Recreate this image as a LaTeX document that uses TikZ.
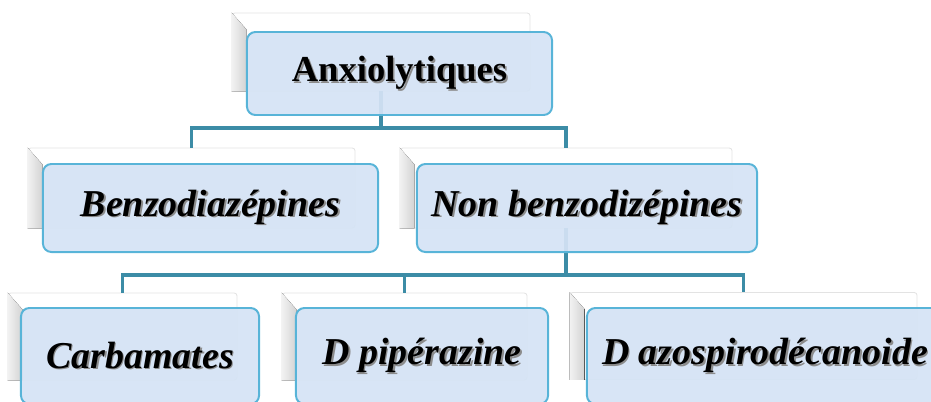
\documentclass[tikz,border=0pt]{standalone}
\usepackage{fontspec}
\setmainfont{Liberation Serif}
\usepackage{xcolor}
\usepackage{tikz}
\usetikzlibrary{positioning,calc}
\definecolor{boxblue}{RGB}{213, 227, 245}
\definecolor{boxedge}{RGB}{88, 180, 216}
\definecolor{linkteal}{RGB}{60, 140, 166}
\newcommand{\shadowed}[1]{\rlap{\textcolor{black!45}{\kern1.2pt\raisebox{-1.2pt}{#1}}}#1}

\begin{document}
\begin{tikzpicture}[x=0.025cm, y=-0.025cm,
        backbox/.style={rectangle, draw=gray!22, fill=white, rounded corners=2pt, line width=0.6pt},
        frontbox/.style={rectangle, draw=boxedge, fill=boxblue, fill opacity=0.93, text opacity=1, rounded corners=6pt, line width=1.4pt, font=\fontsize{27}{32}\selectfont\bfseries\itshape},
        bevel/.style={left color=gray!10, right color=gray!35},
        link/.style={draw=linkteal, line width=2.8pt}
    ]
        \useasboundingbox (0,0) rectangle (931,401);
        \clip (0,0) rectangle (931,401);

        % back panels
        \node[backbox, minimum width=7.45cm, minimum height=1.95cm] (anxb) at (381,52) {};
        \node[backbox, minimum width=8.175cm, minimum height=2cm] (benzb) at (191.5,188) {};
        \node[backbox, minimum width=8.3cm, minimum height=2cm] (nonbb) at (566,188) {};
        \node[backbox, minimum width=5.725cm, minimum height=2.175cm] (carbb) at (122.5,336.5) {};
        \node[backbox, minimum width=6.125cm, minimum height=2.175cm] (dpipb) at (404.5,336.5) {};
        \node[backbox, minimum width=8.675cm, minimum height=2.175cm] (dazob) at (743.5,336) {};

        \foreach \n in {anxb,benzb,nonbb,carbb,dpipb,dazob}
            \fill[bevel] (\n.north west) -- ++(15,17) |- (\n.south west) -- cycle;

        % Level 1 -> 2
        \draw[link] (anxb.south) -- ++(0,37) -| (benzb.north);
        \draw[link] (anxb.south) -- ++(0,37) -| (nonbb.north);

        % Level 2 -> 3
        \draw[link] (nonbb.south) -- ++(0,47) -| (carbb.north);
        \draw[link] (nonbb.south) -- ++(0,47) -| (dpipb.north);
        \draw[link] (nonbb.south) -- ++(0,47) -| (dazob.north);

        % front boxes
        \node[frontbox, minimum width=7.625cm, minimum height=2.075cm, font=\fontsize{26}{31}\selectfont\bfseries] (anx) at (399.5,73.5) {\shadowed{Anxiolytiques}};
        \node[frontbox, minimum width=8.375cm, minimum height=2.2cm] (benz) at (210.5,208) {\shadowed{Benzodiazépines}};
        \node[frontbox, minimum width=8.5cm, minimum height=2.2cm] (nonb) at (587,208) {\shadowed{Non benzodizépines}};
        \node[frontbox, minimum width=5.95cm, minimum height=2.4cm] (carb) at (140,356) {\shadowed{Carbamates}};
        \node[frontbox, minimum width=6.3cm, minimum height=2.4cm] (dpip) at (422,356) {\shadowed{D pipérazine}};
        \node[frontbox, minimum width=8.9cm, minimum height=2.4cm] (dazo) at (765,356) {\shadowed{D azospirodécanoide}};
    \end{tikzpicture}
\end{document}
